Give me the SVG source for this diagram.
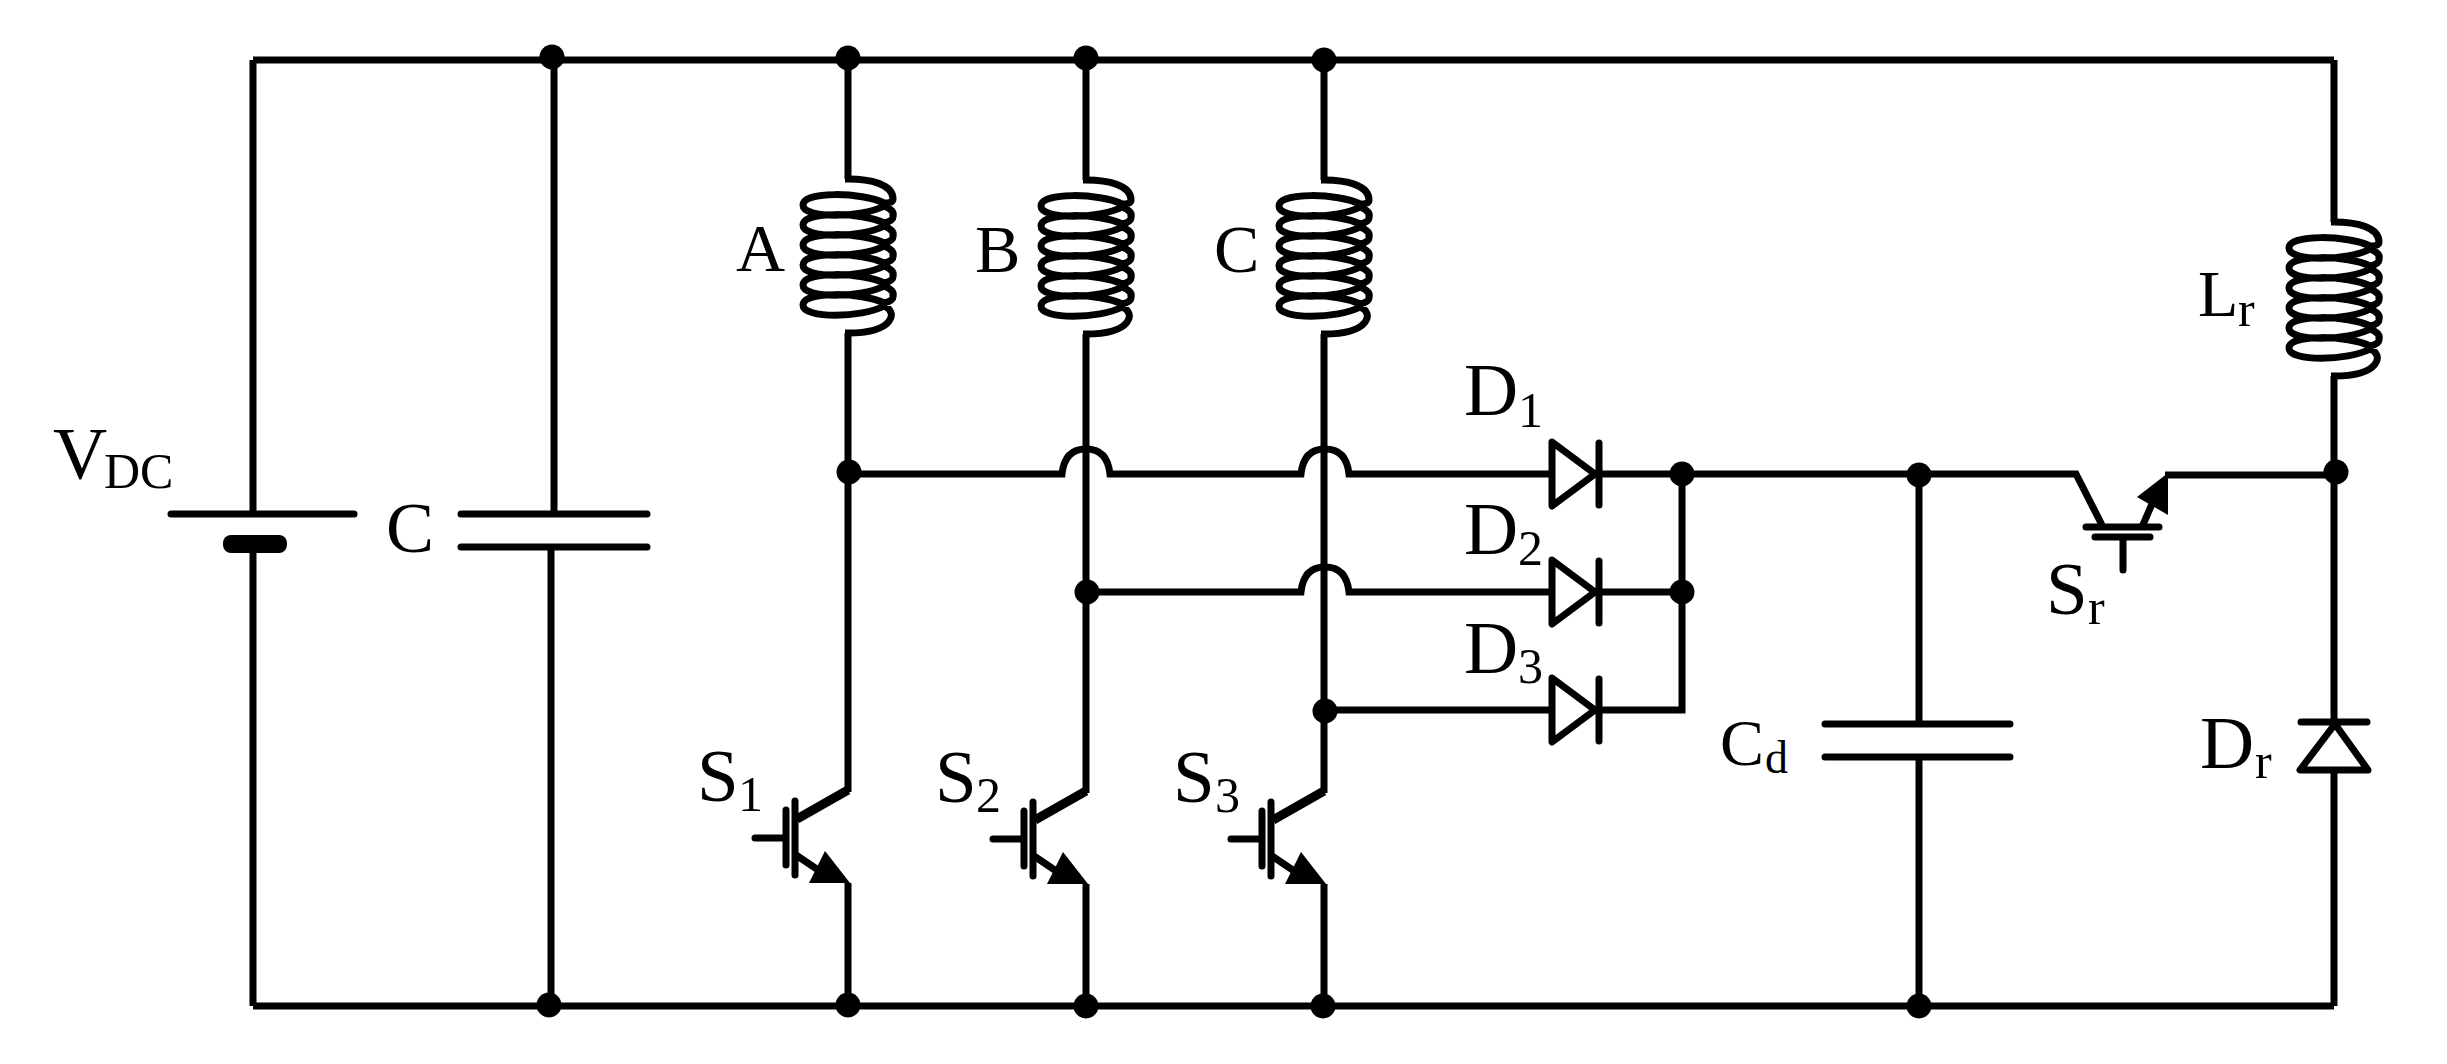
<svg xmlns="http://www.w3.org/2000/svg" xmlns:xlink="http://www.w3.org/1999/xlink" width="2447" height="1064" viewBox="0 0 2447 1064">
<style>
.w{fill:none;stroke:#000;stroke-width:7;stroke-linejoin:miter;stroke-linecap:butt}
.r{fill:none;stroke:#000;stroke-width:7;stroke-linecap:round;stroke-linejoin:round}
.coil{fill:none;stroke:#000;stroke-width:7;stroke-linejoin:miter}
.f{fill:#000;stroke:none}
text{font-family:"Liberation Serif","Times New Roman",serif;font-size:75px;fill:#000}
.m{font-size:68px}
.n{font-size:66px}
.k{font-size:72px}
.s{font-size:50px}
.t{font-size:46px}
</style>
<defs>
<circle id="dot" r="12.5" class="f"/>
<path id="coilshape" class="coil" d="M-3,0 H0 C22,0 45,5 45,20 C45,23 42,24 36,24
C14,13 -45,12 -45,26 C-45,40 14,39 36,27 C44,30 46,34 45,36 C46,40 42,43 36,44
C14,33 -45,32 -45,46 C-45,60 14,59 36,47 C44,50 46,54 45,56 C46,60 42,63 36,64
C14,53 -45,52 -45,66 C-45,80 14,79 36,67 C44,70 46,74 45,76 C46,80 42,83 36,84
C14,73 -45,72 -45,86 C-45,100 14,99 36,87 C44,90 46,94 45,96 C46,100 42,103 36,104
C14,93 -45,92 -45,106 C-45,120 14,119 36,107 C44,110 46,114 45,116 C46,120 42,123 36,124
C14,113 -45,112 -45,126 C-45,140 14,139 36,127 C50,132 47,154 0,154 H-3"/>
<g id="igbt">
<path class="w" style="stroke-width:9" d="M848,790 L797,819"/>
<path class="r" d="M795,801 V875 M786,810 V865 M755,838 H786"/>
<path class="w" d="M796,855 L830,878"/>
<polygon class="f" points="850,883 825,851 809,883"/>
</g>
<g id="diode">
<path class="r" d="M1552,442 L1595,474 L1552,506 Z M1599,443 V505"/>
</g>
</defs>
<g id="connectors">
<path class="w" d="M253,60 H2334 M253,1006 H2334"/>
<path class="w" d="M253,60 V514 M253,544 V1006"/>
<path class="w" d="M554,60 V514 M551,547 V1006"/>
<path class="w" d="M848,60 V179 M848,333 V792 M848,883 V1006"/>
<path class="w" d="M1086,60 V180 M1086,334 V793 M1086,884 V1006"/>
<path class="w" d="M1324,60 V180 M1324,334 V793 M1324,884 V1006"/>
<path class="w" d="M848,474 H1062 C1064,455 1074,449 1086,449 C1098,449 1108,455 1110,474 H1301 C1303,455 1313,449 1325,449 C1337,449 1347,455 1349,474 H1552"/>
<path class="w" d="M1086,592 H1301 C1303,573 1313,567 1325,567 C1337,567 1347,573 1349,592 H1552"/>
<path class="w" d="M1324,710 H1552"/>
<path class="w" d="M1599,474 H2076 L2102,525 M2165,475 H2335"/>
<path class="w" d="M1599,592 H1682 M1599,710 H1682 V474"/>
<path class="w" d="M1919,475 V724 M1919,757 V1006"/>
<path class="w" d="M2334,60 V222 M2334,376 V724 M2334,770 V1006"/>
</g>
<g id="VDC"><path class="r" d="M171,514 H354"/><rect class="f" x="223" y="535" width="64" height="18" rx="8"/>
<text x="53" y="479">V<tspan class="s" x="104" y="488">DC</tspan></text></g>
<g id="C1"><path class="r" d="M461,514 H647 M461,547 H647"/><text class="k" x="386" y="552">C</text></g>
<g id="LA"><use xlink:href="#coilshape" href="#coilshape" transform="translate(848,179)"/><text class="m" x="736" y="271">A</text></g>
<g id="LB"><use xlink:href="#coilshape" href="#coilshape" transform="translate(1086,180)"/><text class="m" x="975" y="272">B</text></g>
<g id="LC"><use xlink:href="#coilshape" href="#coilshape" transform="translate(1324,180)"/><text class="m" x="1214" y="272">C</text></g>
<g id="Lr"><use xlink:href="#coilshape" href="#coilshape" transform="translate(2334,222)"/><text class="n" x="2198" y="316">L<tspan class="s" x="2238" y="326">r</tspan></text></g>
<g id="S1"><use xlink:href="#igbt" href="#igbt"/><text x="697" y="801">S<tspan class="s" x="738" y="811">1</tspan></text></g>
<g id="S2"><use xlink:href="#igbt" href="#igbt" transform="translate(238,1)"/><text x="935" y="802">S<tspan class="s" x="976" y="812">2</tspan></text></g>
<g id="S3"><use xlink:href="#igbt" href="#igbt" transform="translate(476,1)"/><text x="1173" y="802">S<tspan class="s" x="1215" y="812">3</tspan></text></g>
<g id="D1"><use xlink:href="#diode" href="#diode"/><text x="1464" y="415">D<tspan class="s" x="1518" y="427">1</tspan></text></g>
<g id="D2"><use xlink:href="#diode" href="#diode" transform="translate(0,118)"/><text x="1464" y="554">D<tspan class="s" x="1518" y="565">2</tspan></text></g>
<g id="D3"><use xlink:href="#diode" href="#diode" transform="translate(0,236)"/><text x="1464" y="673">D<tspan class="s" x="1518" y="683">3</tspan></text></g>
<g id="Cd"><path class="r" d="M1825,724 H2010 M1825,757 H2010"/><text class="n" x="1720" y="765">C<tspan class="t" x="1765" y="773">d</tspan></text></g>
<g id="Sr"><path class="r" d="M2086,527 H2159 M2095,537 H2150 M2123,537 V570"/><path class="w" d="M2142,527 L2155,497"/><polygon class="f" points="2168,473 2137,497 2168,515"/><text x="2046" y="614">S<tspan class="s" x="2088" y="624">r</tspan></text></g>
<g id="Dr"><path class="r" d="M2301,722 H2367 M2335,724 L2300,770 H2368 Z"/><text x="2200" y="768">D<tspan class="s" x="2255" y="778">r</tspan></text></g>
<g id="junctions">
<use xlink:href="#dot" href="#dot" x="552" y="57"/><use xlink:href="#dot" href="#dot" x="848" y="58"/><use xlink:href="#dot" href="#dot" x="1086" y="58"/><use xlink:href="#dot" href="#dot" x="1324" y="60"/>
<use xlink:href="#dot" href="#dot" x="549" y="1005"/><use xlink:href="#dot" href="#dot" x="848" y="1005"/><use xlink:href="#dot" href="#dot" x="1086" y="1006"/><use xlink:href="#dot" href="#dot" x="1323" y="1006"/><use xlink:href="#dot" href="#dot" x="1919" y="1006"/>
<use xlink:href="#dot" href="#dot" x="849" y="472"/><use xlink:href="#dot" href="#dot" x="1087" y="592"/><use xlink:href="#dot" href="#dot" x="1325" y="711"/>
<use xlink:href="#dot" href="#dot" x="1682" y="474"/><use xlink:href="#dot" href="#dot" x="1682" y="592"/><use xlink:href="#dot" href="#dot" x="1919" y="475"/><use xlink:href="#dot" href="#dot" x="2336" y="472"/>
</g>
</svg>
